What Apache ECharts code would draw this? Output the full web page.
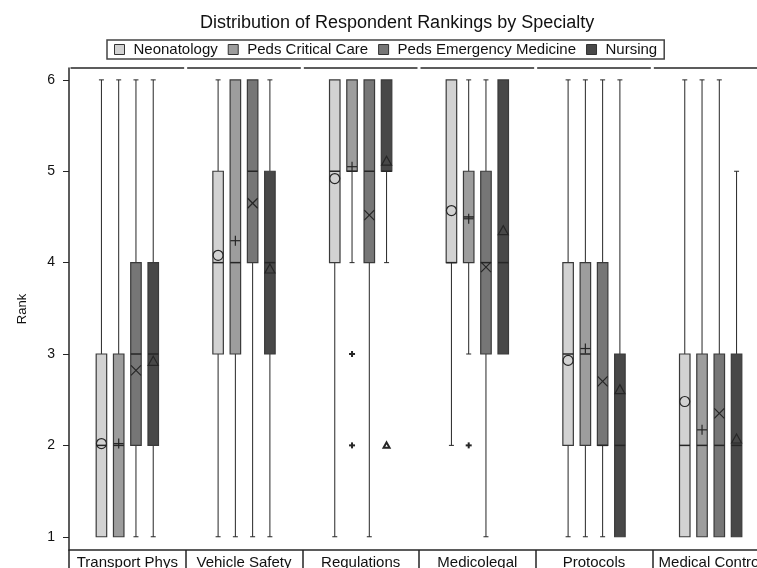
<!DOCTYPE html>
<html>
<head>
<meta charset="utf-8">
<script src="https://cdn.jsdelivr.net/npm/echarts@6/dist/echarts.min.js"></script>
<style>
html, body { margin: 0; padding: 0; background: #fff; }
#chart { width: 757px; height: 568px; }
</style>
</head>
<body>
<div id="chart"></div>
<script>
var categories = ['Transport Phys', 'Vehicle Safety', 'Regulations', 'Medicolegal', 'Protocols', 'Medical Control'];
var groups = ['Neonatology', 'Peds Critical Care', 'Peds Emergency Medicine', 'Nursing'];
var yTicks = [1, 2, 3, 4, 5, 6];

// [min, q1, median, q3, max] per category
var neoBoxes = [[1, 1, 2, 3, 6], [1, 3, 4, 5, 6], [1, 4, 5, 6, 6], [2, 4, 4, 6, 6], [1, 2, 3, 4, 6], [1, 1, 2, 3, 6]];
var neoMeans = [2.02, 4.08, 4.92, 4.57, 2.93, 2.48];
var neoOutliers = [];

var pccBoxes = [[1, 1, 2, 3, 6], [1, 3, 4, 6, 6], [4, 5, 5, 6, 6], [3, 4, 4.5, 5, 6], [1, 2, 3, 4, 6], [1, 1, 2, 3, 6]];
var pccMeans = [2.02, 4.24, 5.05, 4.48, 3.06, 2.17];
var pccOutliers = [[2, 3], [2, 2], [3, 2]];

var pemBoxes = [[1, 2, 3, 4, 6], [1, 4, 5, 6, 6], [1, 4, 5, 6, 6], [1, 3, 4, 5, 6], [1, 2, 2, 4, 6], [1, 1, 2, 3, 6]];
var pemMeans = [2.82, 4.65, 4.52, 3.95, 2.70, 2.35];
var pemOutliers = [];

var nurBoxes = [[1, 2, 3, 4, 6], [1, 3, 4, 5, 6], [4, 5, 5, 6, 6], [3, 3, 4, 6, 6], [1, 1, 2, 3, 6], [1, 1, 2, 3, 5]];
var nurMeans = [2.92, 3.93, 5.11, 4.35, 2.61, 2.07];
var nurOutliers = [[2, 2]];

var fills = ['#d2d2d2', '#9d9d9d', '#767676', '#484848'];
var markers = ['circle', 'plus', 'cross', 'triangle'];
var ink = '#262626';
var Y_MIN = 0.855, Y_MAX = 6.13;
var STEP = 0.148;      // spacing between boxes inside a category
var HALF = 0.045;      // half box width, in category units

function marker(kind, cx, cy, r, lw) {
  var st = { stroke: ink, lineWidth: lw, fill: 'transparent' };
  if (kind === 'circle') {
    return [{ type: 'circle', shape: { cx: cx, cy: cy, r: r }, style: st }];
  }
  if (kind === 'plus') {
    return [
      { type: 'line', shape: { x1: cx - r, y1: cy, x2: cx + r, y2: cy }, style: st },
      { type: 'line', shape: { x1: cx, y1: cy - r, x2: cx, y2: cy + r }, style: st }
    ];
  }
  if (kind === 'cross') {
    return [
      { type: 'line', shape: { x1: cx - r, y1: cy - r, x2: cx + r, y2: cy + r }, style: st },
      { type: 'line', shape: { x1: cx - r, y1: cy + r, x2: cx + r, y2: cy - r }, style: st }
    ];
  }
  return [{ type: 'polygon', shape: { points: [[cx, cy - r], [cx + r, cy + r * 0.8], [cx - r, cy + r * 0.8]] }, style: st }];
}

function boxRender(gi) {
  var off = (gi - 1.5) * STEP;
  return function (params, api) {
    var x = api.value(0) + off;
    var lo = api.coord([x, api.value(1)]);
    var q1 = api.coord([x, api.value(2)]);
    var md = api.coord([x, api.value(3)]);
    var q3 = api.coord([x, api.value(4)]);
    var hi = api.coord([x, api.value(5)]);
    var mn = api.coord([x, api.value(6)]);
    var hw = api.size([1, 0])[0] * HALF;
    var cx = lo[0];
    var line = { stroke: ink, lineWidth: 1 };
    var kids = [];
    if (hi[1] < q3[1] - 0.5) {
      kids.push({ type: 'line', shape: { x1: cx, y1: q3[1], x2: cx, y2: hi[1] }, style: line });
      kids.push({ type: 'line', shape: { x1: cx - 2.5, y1: hi[1], x2: cx + 2.5, y2: hi[1] }, style: line });
    }
    if (lo[1] > q1[1] + 0.5) {
      kids.push({ type: 'line', shape: { x1: cx, y1: q1[1], x2: cx, y2: lo[1] }, style: line });
      kids.push({ type: 'line', shape: { x1: cx - 2.5, y1: lo[1], x2: cx + 2.5, y2: lo[1] }, style: line });
    }
    kids.push({ type: 'rect', shape: { x: cx - hw, y: q3[1], width: hw * 2, height: q1[1] - q3[1] },
      style: { fill: fills[gi], stroke: '#3a3a3a', lineWidth: 1.2 } });
    kids.push({ type: 'line', shape: { x1: cx - hw, y1: md[1], x2: cx + hw, y2: md[1] }, style: { stroke: ink, lineWidth: 1.5 } });
    kids = kids.concat(marker(markers[gi], cx, mn[1], 5, 1.2));
    return { type: 'group', children: kids };
  };
}

function outlierRender(gi) {
  var off = (gi - 1.5) * STEP;
  return function (params, api) {
    var p = api.coord([api.value(0) + off, api.value(1)]);
    return { type: 'group', children: marker(markers[gi], p[0], p[1], 3, 2) };
  };
}

function toRows(boxes, means) {
  return boxes.map(function (b, i) { return [i, b[0], b[1], b[2], b[3], b[4], means[i]]; });
}

var boxSets = [
  [neoBoxes, neoMeans, neoOutliers],
  [pccBoxes, pccMeans, pccOutliers],
  [pemBoxes, pemMeans, pemOutliers],
  [nurBoxes, nurMeans, nurOutliers]
];

var series = [];
boxSets.forEach(function (s, gi) {
  series.push({
    name: groups[gi], type: 'custom', xAxisIndex: 1, yAxisIndex: 0,
    itemStyle: { color: fills[gi] },
    renderItem: boxRender(gi),
    encode: { x: 0, y: [1, 2, 3, 4, 5, 6] },
    data: toRows(s[0], s[1]), z: 3
  });
  series.push({
    name: groups[gi], type: 'custom', xAxisIndex: 1, yAxisIndex: 0,
    itemStyle: { color: fills[gi] },
    renderItem: outlierRender(gi),
    encode: { x: 0, y: 1 },
    data: s[2], z: 3
  });
});

// top panel borders, one segment per category
series.push({
  type: 'custom', xAxisIndex: 1, yAxisIndex: 0, silent: true,
  renderItem: function (params, api) {
    var a = api.coord([api.value(0) - 0.487, Y_MAX]);
    var b = api.coord([api.value(0) + 0.487, Y_MAX]);
    return { type: 'line', shape: { x1: a[0], y1: a[1], x2: b[0], y2: b[1] }, style: { stroke: ink, lineWidth: 1.5 } };
  },
  encode: { x: 0 },
  data: categories.map(function (c, i) { return [i]; })
});

var font = 'Liberation Sans, Arial, sans-serif';
var option = {
  animation: false,
  backgroundColor: '#fff',
  title: {
    text: 'Distribution of Respondent Rankings by Specialty',
    left: 195, top: 9,
    textStyle: { fontFamily: font, fontSize: 18, fontWeight: 'normal', color: '#111' }
  },
  legend: {
    left: 107, top: 40,
    padding: [2, 7, 2, 7],
    borderColor: '#444', borderWidth: 1.5,
    itemWidth: 10, itemHeight: 10, itemGap: 10,
    icon: 'rect',
    textStyle: { fontFamily: font, fontSize: 15, color: '#111', padding: [0, 0, 0, 4] },
    data: groups.map(function (g, i) {
      return { name: g, itemStyle: { color: fills[i], borderColor: '#333', borderWidth: 1 } };
    })
  },
  grid: { left: 69, top: 68, width: 700, height: 482, outerBoundsMode: 'none', containLabel: false },
  xAxis: [
    {
      type: 'category', data: categories, position: 'bottom', boundaryGap: true,
      axisLine: { lineStyle: { color: ink, width: 1.5 } },
      axisTick: { show: true, interval: 0, length: 22, lineStyle: { color: ink, width: 1.5 } },
      axisLabel: { interval: 0, margin: 5, fontFamily: font, fontSize: 15, color: '#111' },
      splitLine: { show: false }
    },
    { type: 'value', min: -0.5, max: 5.5, show: false }
  ],
  yAxis: {
    type: 'value', min: Y_MIN, max: Y_MAX,
    name: 'Rank', nameLocation: 'middle', nameGap: 40,
    nameTextStyle: { fontFamily: font, fontSize: 13, color: '#111' },
    axisLine: { show: true, onZero: false, lineStyle: { color: ink, width: 1.5 } },
    axisTick: { show: true, length: 6, customValues: yTicks, lineStyle: { color: ink } },
    axisLabel: { margin: 14, customValues: yTicks, fontFamily: font, fontSize: 14, color: '#111' },
    splitLine: { show: false }
  },
  series: series
};

var chart = echarts.init(document.getElementById('chart'));
chart.setOption(option);
</script>
</body>
</html>
